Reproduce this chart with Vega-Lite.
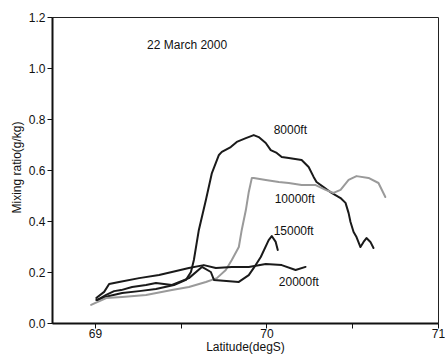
{
  "$schema": "https://vega.github.io/schema/vega-lite/v6.json",
  "width": 386,
  "height": 306,
  "autosize": {"type": "none"},
  "padding": {"left": 52, "top": 17, "right": 7, "bottom": 34},
  "background": "white",
  "config": {
    "font": "Liberation Sans",
    "view": {"stroke": "#222", "strokeWidth": 1},
    "axis": {
      "domainColor": "#111",
      "domainWidth": 2,
      "tickColor": "#111",
      "tickWidth": 1,
      "tickSize": 5,
      "labelFont": "Liberation Sans",
      "labelFontSize": 12,
      "labelColor": "#111",
      "titleFont": "Liberation Sans",
      "titleFontSize": 12,
      "titleFontWeight": "normal",
      "titleColor": "#111",
      "grid": false
    }
  },
  "datasets": {
    "profiles": [
      {"series": "8000ft", "lat": 69.008, "ratio": 0.090},
      {"series": "8000ft", "lat": 69.083, "ratio": 0.106},
      {"series": "8000ft", "lat": 69.159, "ratio": 0.118},
      {"series": "8000ft", "lat": 69.258, "ratio": 0.125},
      {"series": "8000ft", "lat": 69.356, "ratio": 0.133},
      {"series": "8000ft", "lat": 69.461, "ratio": 0.149},
      {"series": "8000ft", "lat": 69.531, "ratio": 0.169},
      {"series": "8000ft", "lat": 69.560, "ratio": 0.200},
      {"series": "8000ft", "lat": 69.577, "ratio": 0.247},
      {"series": "8000ft", "lat": 69.606, "ratio": 0.365},
      {"series": "8000ft", "lat": 69.647, "ratio": 0.482},
      {"series": "8000ft", "lat": 69.682, "ratio": 0.588},
      {"series": "8000ft", "lat": 69.723, "ratio": 0.659},
      {"series": "8000ft", "lat": 69.740, "ratio": 0.671},
      {"series": "8000ft", "lat": 69.792, "ratio": 0.690},
      {"series": "8000ft", "lat": 69.827, "ratio": 0.710},
      {"series": "8000ft", "lat": 69.880, "ratio": 0.725},
      {"series": "8000ft", "lat": 69.926, "ratio": 0.737},
      {"series": "8000ft", "lat": 69.955, "ratio": 0.729},
      {"series": "8000ft", "lat": 69.996, "ratio": 0.706},
      {"series": "8000ft", "lat": 70.025, "ratio": 0.678},
      {"series": "8000ft", "lat": 70.060, "ratio": 0.667},
      {"series": "8000ft", "lat": 70.089, "ratio": 0.651},
      {"series": "8000ft", "lat": 70.130, "ratio": 0.647},
      {"series": "8000ft", "lat": 70.205, "ratio": 0.639},
      {"series": "8000ft", "lat": 70.246, "ratio": 0.612},
      {"series": "8000ft", "lat": 70.275, "ratio": 0.573},
      {"series": "8000ft", "lat": 70.292, "ratio": 0.553},
      {"series": "8000ft", "lat": 70.333, "ratio": 0.533},
      {"series": "8000ft", "lat": 70.380, "ratio": 0.510},
      {"series": "8000ft", "lat": 70.432, "ratio": 0.490},
      {"series": "8000ft", "lat": 70.461, "ratio": 0.471},
      {"series": "8000ft", "lat": 70.479, "ratio": 0.431},
      {"series": "8000ft", "lat": 70.490, "ratio": 0.396},
      {"series": "8000ft", "lat": 70.508, "ratio": 0.357},
      {"series": "8000ft", "lat": 70.525, "ratio": 0.337},
      {"series": "8000ft", "lat": 70.548, "ratio": 0.298},
      {"series": "8000ft", "lat": 70.566, "ratio": 0.318},
      {"series": "8000ft", "lat": 70.583, "ratio": 0.333},
      {"series": "8000ft", "lat": 70.606, "ratio": 0.318},
      {"series": "8000ft", "lat": 70.624, "ratio": 0.294},

      {"series": "10000ft", "lat": 68.978, "ratio": 0.071},
      {"series": "10000ft", "lat": 69.066, "ratio": 0.098},
      {"series": "10000ft", "lat": 69.159, "ratio": 0.102},
      {"series": "10000ft", "lat": 69.298, "ratio": 0.110},
      {"series": "10000ft", "lat": 69.449, "ratio": 0.129},
      {"series": "10000ft", "lat": 69.548, "ratio": 0.141},
      {"series": "10000ft", "lat": 69.647, "ratio": 0.161},
      {"series": "10000ft", "lat": 69.711, "ratio": 0.176},
      {"series": "10000ft", "lat": 69.763, "ratio": 0.208},
      {"series": "10000ft", "lat": 69.798, "ratio": 0.247},
      {"series": "10000ft", "lat": 69.839, "ratio": 0.298},
      {"series": "10000ft", "lat": 69.856, "ratio": 0.365},
      {"series": "10000ft", "lat": 69.880, "ratio": 0.443},
      {"series": "10000ft", "lat": 69.897, "ratio": 0.514},
      {"series": "10000ft", "lat": 69.915, "ratio": 0.569},
      {"series": "10000ft", "lat": 69.926, "ratio": 0.569},
      {"series": "10000ft", "lat": 69.996, "ratio": 0.561},
      {"series": "10000ft", "lat": 70.072, "ratio": 0.553},
      {"series": "10000ft", "lat": 70.130, "ratio": 0.549},
      {"series": "10000ft", "lat": 70.205, "ratio": 0.541},
      {"series": "10000ft", "lat": 70.287, "ratio": 0.541},
      {"series": "10000ft", "lat": 70.345, "ratio": 0.522},
      {"series": "10000ft", "lat": 70.391, "ratio": 0.510},
      {"series": "10000ft", "lat": 70.432, "ratio": 0.522},
      {"series": "10000ft", "lat": 70.479, "ratio": 0.561},
      {"series": "10000ft", "lat": 70.525, "ratio": 0.576},
      {"series": "10000ft", "lat": 70.595, "ratio": 0.569},
      {"series": "10000ft", "lat": 70.653, "ratio": 0.549},
      {"series": "10000ft", "lat": 70.693, "ratio": 0.494},

      {"series": "15000ft", "lat": 69.013, "ratio": 0.090},
      {"series": "15000ft", "lat": 69.066, "ratio": 0.110},
      {"series": "15000ft", "lat": 69.112, "ratio": 0.125},
      {"series": "15000ft", "lat": 69.153, "ratio": 0.129},
      {"series": "15000ft", "lat": 69.217, "ratio": 0.141},
      {"series": "15000ft", "lat": 69.298, "ratio": 0.149},
      {"series": "15000ft", "lat": 69.356, "ratio": 0.157},
      {"series": "15000ft", "lat": 69.449, "ratio": 0.149},
      {"series": "15000ft", "lat": 69.548, "ratio": 0.176},
      {"series": "15000ft", "lat": 69.624, "ratio": 0.220},
      {"series": "15000ft", "lat": 69.676, "ratio": 0.200},
      {"series": "15000ft", "lat": 69.694, "ratio": 0.169},
      {"series": "15000ft", "lat": 69.839, "ratio": 0.161},
      {"series": "15000ft", "lat": 69.897, "ratio": 0.188},
      {"series": "15000ft", "lat": 69.926, "ratio": 0.216},
      {"series": "15000ft", "lat": 69.967, "ratio": 0.259},
      {"series": "15000ft", "lat": 70.013, "ratio": 0.325},
      {"series": "15000ft", "lat": 70.031, "ratio": 0.341},
      {"series": "15000ft", "lat": 70.054, "ratio": 0.318},
      {"series": "15000ft", "lat": 70.066, "ratio": 0.286},

      {"series": "20000ft", "lat": 69.008, "ratio": 0.098},
      {"series": "20000ft", "lat": 69.054, "ratio": 0.122},
      {"series": "20000ft", "lat": 69.083, "ratio": 0.153},
      {"series": "20000ft", "lat": 69.141, "ratio": 0.161},
      {"series": "20000ft", "lat": 69.258, "ratio": 0.176},
      {"series": "20000ft", "lat": 69.374, "ratio": 0.188},
      {"series": "20000ft", "lat": 69.449, "ratio": 0.200},
      {"series": "20000ft", "lat": 69.548, "ratio": 0.216},
      {"series": "20000ft", "lat": 69.635, "ratio": 0.227},
      {"series": "20000ft", "lat": 69.705, "ratio": 0.216},
      {"series": "20000ft", "lat": 69.798, "ratio": 0.220},
      {"series": "20000ft", "lat": 69.897, "ratio": 0.220},
      {"series": "20000ft", "lat": 69.996, "ratio": 0.231},
      {"series": "20000ft", "lat": 70.089, "ratio": 0.227},
      {"series": "20000ft", "lat": 70.170, "ratio": 0.208},
      {"series": "20000ft", "lat": 70.228, "ratio": 0.220}
    ],
    "notes": [
      {"text": "22 March 2000", "lat": 69.304, "ratio": 1.090},
      {"text": "8000ft", "lat": 70.042, "ratio": 0.755},
      {"text": "10000ft", "lat": 70.048, "ratio": 0.486},
      {"text": "15000ft", "lat": 70.042, "ratio": 0.361},
      {"text": "20000ft", "lat": 70.072, "ratio": 0.159}
    ]
  },
  "layer": [
    {
      "data": {"name": "profiles"},
      "mark": {"type": "line", "strokeWidth": 2, "strokeJoin": "round", "strokeCap": "round"},
      "encoding": {
        "x": {
          "field": "lat",
          "type": "quantitative",
          "scale": {"domain": [68.75, 71], "nice": false, "zero": false},
          "axis": {
            "title": "Latitude(degS)",
            "values": [69, 69.5, 70, 70.5, 71],
            "labelExpr": "datum.value % 1 == 0 ? format(datum.value, 'd') : ''",
            "labelPadding": 0,
            "labelFlush": false,
            "labelOverlap": false,
            "titleY": 27,
            "titleBaseline": "alphabetic"
          }
        },
        "y": {
          "field": "ratio",
          "type": "quantitative",
          "scale": {"domain": [0, 1.2], "nice": false},
          "axis": {
            "title": "Mixing ratio(g/kg)",
            "values": [0, 0.1, 0.2, 0.3, 0.4, 0.5, 0.6, 0.7, 0.8, 0.9, 1.0, 1.1, 1.2],
            "labelExpr": "round(datum.value * 10) % 2 == 0 ? format(datum.value, '.1f') : ''",
            "labelPadding": 2,
            "labelOverlap": false,
            "titleX": -36,
            "titleY": 150,
            "titleAngle": -90,
            "titleAlign": "center",
            "titleBaseline": "middle"
          }
        },
        "color": {
          "field": "series",
          "type": "nominal",
          "scale": {
            "domain": ["8000ft", "10000ft", "15000ft", "20000ft"],
            "range": ["#1a1a1a", "#9a9a9a", "#1a1a1a", "#1a1a1a"]
          },
          "legend": null
        },
        "order": {"field": "lat", "type": "quantitative"}
      }
    },
    {
      "data": {"name": "notes"},
      "mark": {"type": "text", "align": "left", "baseline": "middle", "fontSize": 12, "font": "Liberation Sans", "color": "#111"},
      "encoding": {
        "x": {"field": "lat", "type": "quantitative"},
        "y": {"field": "ratio", "type": "quantitative"},
        "text": {"field": "text", "type": "nominal"}
      }
    }
  ]
}
